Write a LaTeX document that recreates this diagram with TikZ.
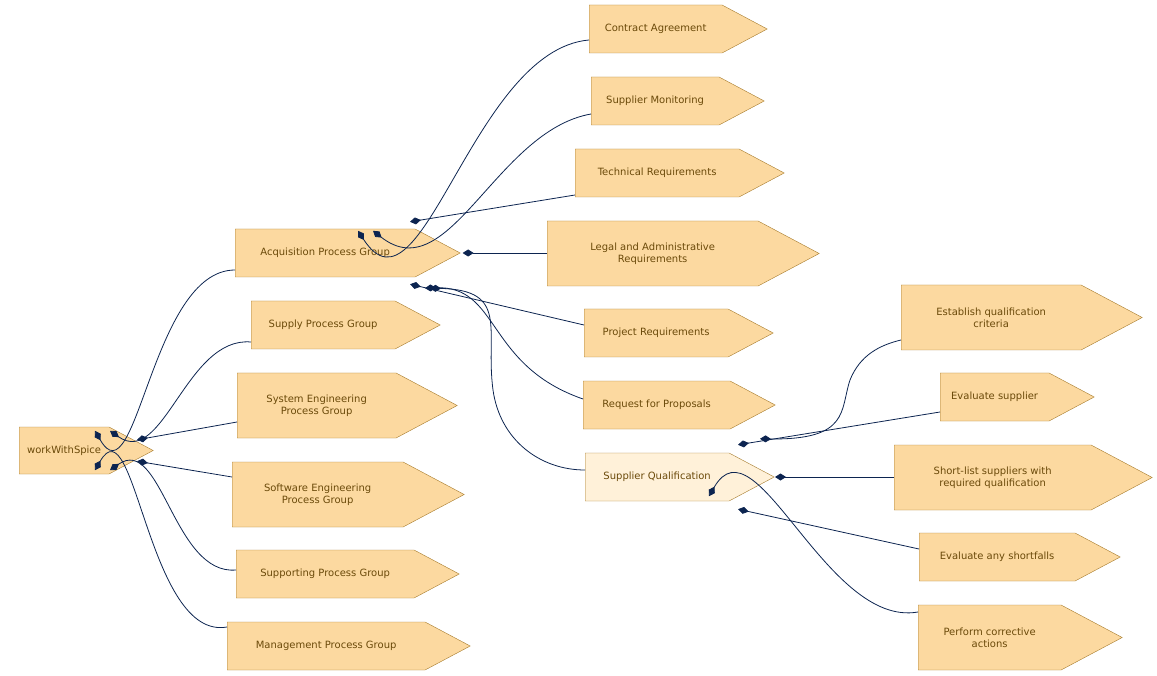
\documentclass[tikz,border=0pt]{standalone}
\usepackage{fontspec}
\setmainfont{DejaVu Sans}
\usetikzlibrary{shapes.symbols,arrows.meta}
\definecolor{fillc}{HTML}{FCD9A0}
\definecolor{fillq}{HTML}{FFF1D9}
\definecolor{borderc}{HTML}{A67B2C}
\definecolor{textc}{HTML}{6B4A0A}
\definecolor{edgec}{HTML}{0C2450}
\tikzset{
  box/.style={signal, signal to=east, signal pointer angle=56, draw=borderc, fill=fillc,
    text=textc, font=\fontsize{10}{12}\selectfont, align=center, inner sep=0pt, anchor=west},
  edge/.style={draw=edgec, line width=0.8pt, {Diamond[length=11pt,width=7pt]}-}
}
\begin{document}
\begin{tikzpicture}[x=1pt,y=-1pt]
\useasboundingbox (0,0) rectangle (1157,676);
\newcommand{\bx}[7][]{\node[box,#1,minimum width={#5-#3},minimum height={#6-#4}] (#2) at (#3,{(#4+#6)/2}) {#7};}
\bx{w}{19}{427}{153}{474}{workWithSpice}
\bx{acq}{235}{229}{460}{277}{Acquisition Process Group}
\bx{sup}{251}{301}{440}{349}{Supply Process Group}
\bx{sys}{237}{373}{457}{438}{System Engineering\\Process Group}
\bx{sw}{232}{462}{464}{527}{Software Engineering\\Process Group}
\bx{spt}{236}{550}{459}{598}{Supporting Process Group}
\bx{mgt}{227}{622}{470}{670}{Management Process Group}
\bx{ca}{589}{5}{767}{53}{Contract Agreement}
\bx{sm}{591}{77}{764}{125}{Supplier Monitoring}
\bx{tr}{575}{149}{784}{197}{Technical Requirements}
\bx{la}{547}{221}{819}{286}{Legal and Administrative\\Requirements}
\bx{pr}{584}{309}{773}{357}{Project Requirements}
\bx{rp}{583}{381}{775}{429}{Request for Proposals}
\bx[fill=fillq]{sq}{585}{453}{774}{501}{Supplier Qualification}
\bx{ec}{901}{285}{1142}{350}{Establish qualification\\criteria}
\bx{es}{940}{373}{1094}{421}{Evaluate supplier}
\bx{sl}{894}{445}{1152}{510}{Short-list suppliers with\\required qualification}
\bx{ea}{919}{533}{1120}{581}{Evaluate any shortfalls}
\bx{pc}{918}{605}{1122}{670}{Perform corrective\\actions}
% workWithSpice
\draw[edge] ([xshift=76pt,yshift=-4pt]w.north west) to[out=-60,in=180] (acq.west|-0,270);
\draw[edge] ([xshift=91pt,yshift=-4pt]w.north west) to[out=-35,in=175] (sup.west|-0,342);
\draw[edge] ([xshift=118pt,yshift=-13pt]w.north west) -- (sys.west|-0,422);
\draw[edge] ([xshift=118pt,yshift=13pt]w.south west) -- (sw.west|-0,477);
\draw[edge] ([xshift=91pt,yshift=4pt]w.south west) to[out=35,in=185] (spt.west|-0,570);
\draw[edge] ([xshift=76pt,yshift=4pt]w.south west) to[out=60,in=190] (mgt.west|-0,627);
% acquisition
\draw[edge] ([xshift=123pt,yshift=-2pt]acq.north west) to[out=-57,in=185] (ca.west|-0,40);
\draw[edge] ([xshift=138pt,yshift=-2pt]acq.north west) to[out=-38,in=190] (sm.west|-0,114);
\draw[edge] ([xshift=175pt,yshift=7pt]acq.north west) -- (tr.west|-0,195);
\draw[edge] ([xshift=2pt]acq.east) -- (la.west|-0,253);
\draw[edge] ([xshift=175pt,yshift=-7pt]acq.south west) -- (pr.west|-0,325);
\draw[edge] ([xshift=190pt,yshift=-11pt]acq.south west) .. controls (500,285) and (485,365) .. (rp.west|-0,399);
\draw[edge] ([xshift=195pt,yshift=-11pt]acq.south west) .. controls (510,290) and (485,330) .. (493,390) .. controls (500,440) and (540,470) .. (sq.west|-0,470);
% supplier qualification
\draw[edge] ([xshift=175pt,yshift=14pt]sq.north west) .. controls (850,440) and (840,410) .. (850,380) .. controls (860,355) and (880,345) .. (ec.west|-0,340);
\draw[edge] ([xshift=153pt,yshift=8pt]sq.north west) -- (es.west|-0,412);
\draw[edge] ([xshift=190pt]sq.west) -- (sl.west|-0,477);
\draw[edge] ([xshift=153pt,yshift=-8pt]sq.south west) -- (ea.west|-0,549);
\draw[edge] ([xshift=124pt,yshift=5pt]sq.south west) to[out=60,in=190] (pc.west|-0,612);
\end{tikzpicture}
\end{document}
